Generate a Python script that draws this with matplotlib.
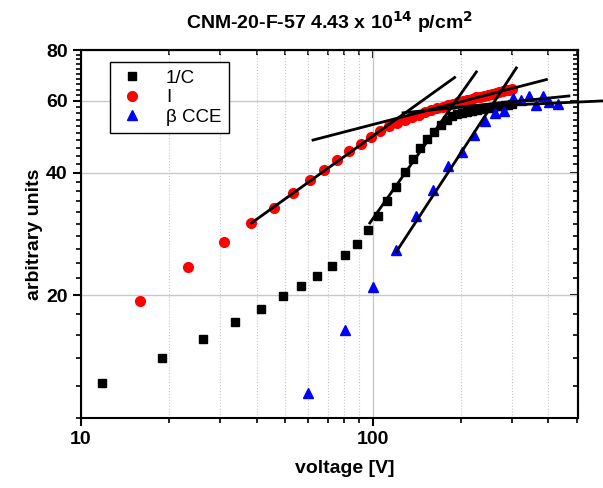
import numpy as np
import matplotlib
matplotlib.use("Agg")
from matplotlib import pyplot as plt
from matplotlib.ticker import FixedLocator, FixedFormatter, NullFormatter

plt.rcParams['font.family'] = ['Liberation Sans', 'DejaVu Sans']

# 1/C  (black squares)
v_c = [11.8, 19, 26.2, 33.7, 41.3, 49.1, 56.8, 64.5, 72.4, 80.2, 88.4, 96.4, 104.3,
       112.2, 120.5, 128.8, 137.5, 145.6, 153.8, 162.6, 171.8, 179.5, 187.4,
       195, 203, 211, 219, 227, 235, 243, 251, 259, 267, 275, 283, 291, 299]
y_c = [12.2, 14.0, 15.6, 17.2, 18.5, 19.9, 21.1, 22.3, 23.6, 25.1, 26.8, 28.9, 31.3,
       34.0, 36.9, 40.2, 43.2, 46.1, 48.4, 50.4, 52.4, 53.8, 55.1,
       55.6, 56.1, 56.5, 56.8, 57.1, 57.4, 57.6, 57.8, 58.0, 58.2, 58.4, 58.6, 58.7, 58.9]

# I  (red circles)
v_i = [15.9, 23.3, 30.8, 38.4, 45.9, 53.3, 60.7, 68.3, 75.7, 83.0, 90.8, 98.4, 105.9, 113.8,
       121, 128.5, 136, 143.5, 151, 158.5, 166, 173.5, 181, 188.5, 196, 203.5, 211,
       218.5, 226, 233.5, 241, 248.5, 256, 263.5, 271, 278.5, 286, 293.5, 301]
y_i = [19.4, 23.5, 27.0, 30.1, 32.7, 35.7, 38.3, 40.7, 43.0, 45.1, 47.1, 49.0, 50.6, 52.1,
       53.0, 53.9, 54.8, 55.5, 56.3, 57.0, 57.6, 58.1, 58.6, 59.1, 59.6, 60.0, 60.4,
       60.8, 61.2, 61.5, 61.8, 62.2, 62.5, 62.8, 63.1, 63.4, 63.7, 64.0, 64.3]

# beta CCE  (blue triangles)
v_b = [60, 80.2, 100, 120.5, 141, 161, 181, 202, 221.6, 243, 262, 282, 302, 321, 342,
       361.5, 383, 401.5, 431]
y_b = [11.5, 16.4, 21.0, 25.9, 31.3, 36.3, 41.6, 44.9, 49.4, 53.6, 56.1, 56.6, 60.9,
       60.3, 61.8, 58.6, 61.8, 59.5, 58.9]

# fit lines (end points)
fits = [
    ([38.4, 190.8], [30.1, 68.5]),   # I, low voltage
    ([62.4, 393.6], [48.1, 67.7]),   # I, high voltage
    ([97.7, 226.5], [30.1, 70.7]),   # 1/C, rise
    ([127, 470], [56.1, 61.7]),      # 1/C, plateau
    ([120.5, 310.5], [25.6, 72.3]),  # CCE, rise
    ([170, 613], [57.6, 60.0]),      # CCE, plateau
]

xminor = [20, 30, 40, 50, 60, 70, 80, 90, 200, 300, 400, 500]
yminor = [v for v in range(10, 80, 2) if v % 20 != 0]

fig = plt.figure(figsize=(6.03, 4.88), dpi=100)
ax = fig.add_axes([0.1343, 0.1434, 0.8242, 0.7541])
ax.set_xscale('log')
ax.set_yscale('log')
ax.set_xlim(10, 505)
ax.set_ylim(10, 80)

ax.plot(v_c, y_c, 's', color='black', ms=6.3, label='1/C', zorder=3)
ax.plot(v_i, y_i, 'o', color='red', ms=7, label='I', zorder=3)
ax.plot(v_b, y_b, '^', color='blue', ms=7.5, label='β CCE', zorder=3)

for fx, fy in fits:
    ax.plot(fx, fy, '-', color='black', lw=2, zorder=4, clip_on=False)

# ticks
ax.xaxis.set_major_locator(FixedLocator([10, 100]))
ax.xaxis.set_major_formatter(FixedFormatter(['10', '100']))
ax.xaxis.set_minor_locator(FixedLocator(xminor))
ax.xaxis.set_minor_formatter(NullFormatter())
ax.yaxis.set_major_locator(FixedLocator([20, 40, 60, 80]))
ax.yaxis.set_major_formatter(FixedFormatter(['20', '40', '60', '80']))
ax.yaxis.set_minor_locator(FixedLocator(yminor))
ax.yaxis.set_minor_formatter(NullFormatter())

ax.tick_params(which='major', direction='out', length=6, width=1.5, labelsize=14)
ax.tick_params(which='minor', direction='out', length=3.5, width=1.2)
for lab in ax.get_xticklabels() + ax.get_yticklabels():
    lab.set_fontweight('bold')

# mirrored inner ticks on top/right
top = ax.secondary_xaxis('top', functions=(lambda x: x, lambda x: x))
top.xaxis.set_major_locator(FixedLocator([10, 100]))
top.xaxis.set_minor_locator(FixedLocator(xminor))
top.tick_params(which='major', direction='in', length=6, width=1.5, labeltop=False)
top.tick_params(which='minor', direction='in', length=3.5, width=1.2)
top.xaxis.set_major_formatter(NullFormatter())
top.xaxis.set_minor_formatter(NullFormatter())
right = ax.secondary_yaxis('right', functions=(lambda y: y, lambda y: y))
right.yaxis.set_major_locator(FixedLocator([20, 40, 60, 80]))
right.yaxis.set_minor_locator(FixedLocator(yminor))
right.tick_params(which='major', direction='in', length=6, width=1.5, labelright=False)
right.tick_params(which='minor', direction='in', length=3.5, width=1.2)
right.yaxis.set_major_formatter(NullFormatter())
right.yaxis.set_minor_formatter(NullFormatter())
for s in list(ax.spines.values()) + [top.spines['top'], right.spines['right']]:
    s.set_linewidth(1.5)

# grid
ax.grid(which='major', color='#c8c8c8', lw=1, ls='-')
ax.grid(which='minor', axis='x', color='#c8c8c8', lw=0.8, ls=':')
ax.set_axisbelow(True)

ax.set_xlabel('voltage [V]', fontsize=14, fontweight='bold')
ax.xaxis.set_label_coords(0.531, -0.115)
ax.set_ylabel('arbitrary units', fontsize=14, fontweight='bold')
ax.yaxis.set_label_coords(-0.077, 0.5)
ax.set_title('CNM-20-F-57 4.43 x 10$^{\\mathbf{14}}$ p/cm$^{\\mathbf{2}}$',
             fontsize=14, fontweight='bold', pad=15)

leg = ax.legend(loc='upper left', bbox_to_anchor=(0.058, 0.967), fontsize=13.5,
                fancybox=False, framealpha=1, edgecolor='black', borderpad=0.4,
                handletextpad=1.0, labelspacing=0.12, handlelength=1.6,
                borderaxespad=0)
leg.get_frame().set_linewidth(1.0)

plt.savefig('out.png', dpi=100)
